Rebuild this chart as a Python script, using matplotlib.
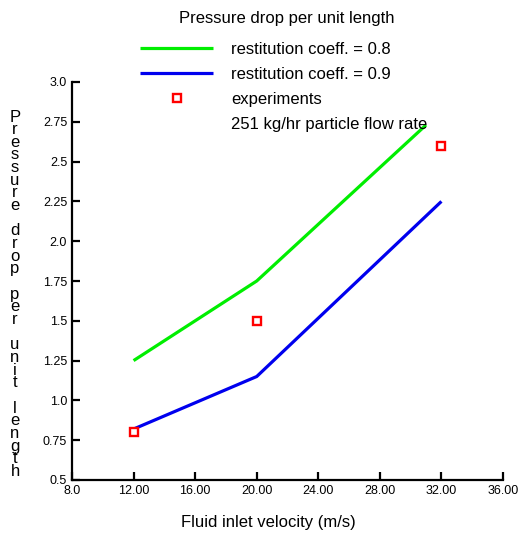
import numpy as np
import matplotlib
matplotlib.use("Agg")
import matplotlib.pyplot as plt

# data
velocity_sim = [12.0, 20.0, 31.0]
dp_e08 = [1.25, 1.75, 2.73]
velocity_sim9 = [12.0, 20.0, 32.0]
dp_e09 = [0.82, 1.15, 2.25]
velocity_exp = [12.0, 20.0, 32.0]
dp_exp = [0.80, 1.50, 2.60]

xticks = [8, 12, 16, 20, 24, 28, 32, 36]
xticklabels = ["8.0", "12.00", "16.00", "20.00", "24.00", "28.00", "32.00", "36.00"]
yticks = [0.5, 0.75, 1.0, 1.25, 1.5, 1.75, 2.0, 2.25, 2.5, 2.75, 3.0]
yticklabels = ["0.5", "0.75", "1.0", "1.25", "1.5", "1.75", "2.0", "2.25", "2.5", "2.75", "3.0"]

plt.rcParams["font.family"] = ["Liberation Sans", "DejaVu Sans"]

W, H = 519, 533
fig = plt.figure(figsize=(W / 100, H / 100), dpi=100)
ax = fig.add_axes([72 / W, 1 - 480 / H, (503 - 72) / W, (480 - 82) / H])

l1, = ax.plot(velocity_sim, dp_e08, color="#00ee00", lw=2.3, solid_capstyle="butt")
l2, = ax.plot(velocity_sim9, dp_e09, color="#0000ee", lw=2.3, solid_capstyle="butt")
l3, = ax.plot(velocity_exp, dp_exp, ls="none", marker="s", ms=5.5, mfc="white",
              mec="red", mew=1.7)

ax.set_xlim(8, 36)
ax.set_ylim(0.5, 3.0)
ax.set_xticks(xticks)
ax.set_xticklabels(xticklabels)
ax.set_yticks(yticks)
ax.set_yticklabels(yticklabels)
ax.tick_params(direction="in", length=6, width=1.6, labelsize=9, pad=3.5)
for s in ["top", "right"]:
    ax.spines[s].set_visible(False)
for s in ["left", "bottom"]:
    ax.spines[s].set_linewidth(1.6)

leg = ax.legend([l1, l2, l3],
                ["restitution coeff. = 0.8", "restitution coeff. = 0.9", "experiments"],
                loc="upper left", bbox_to_anchor=(140 / W, 1 - 42 / H),
                bbox_transform=fig.transFigure, frameon=False, fontsize=12,
                handlelength=4.4, handletextpad=1.05, labelspacing=0.6,
                borderpad=0, borderaxespad=0)

fig.text(287 / W, 1 - 18 / H, "Pressure drop per unit length", ha="center", va="center", fontsize=12)
fig.text(231 / W, 1 - 125 / H, "251 kg/hr particle flow rate", ha="left", va="center", fontsize=12)
fig.text(268 / W, 1 - 522 / H, "Fluid inlet velocity (m/s)", ha="center", va="center", fontsize=12)

# y label with upright stacked letters
ylabel = "Pressure drop per unit length"
for i, ch in enumerate(ylabel):
    fig.text(15 / W, 1 - (117 + i * 12.66) / H, ch, ha="center", va="center", fontsize=12)

fig.savefig("out.png", dpi=100)
